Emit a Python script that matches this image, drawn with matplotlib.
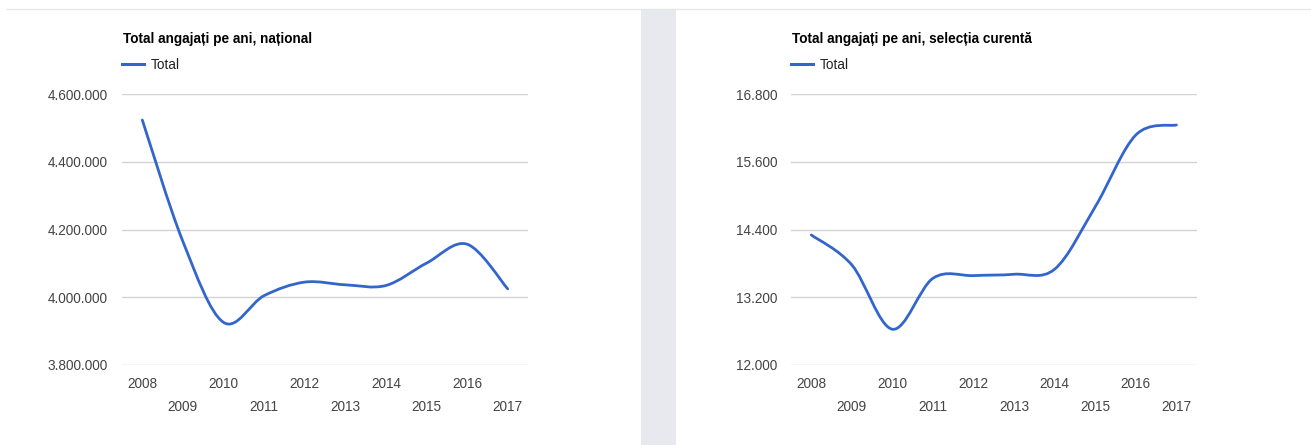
import matplotlib
matplotlib.use("Agg")
import matplotlib.pyplot as plt
from matplotlib.path import Path
from matplotlib.patches import PathPatch, Rectangle
from matplotlib.lines import Line2D
from matplotlib import font_manager
import numpy as np

# ---- data ----
years = ["2008", "2009", "2010", "2011", "2012", "2013", "2014", "2015", "2016", "2017"]
national = [4524000, 4165000, 3926000, 4005000, 4045000, 4037000, 4035000, 4101000, 4157000, 4025000]
selection = [14306, 13774, 12634, 13538, 13585, 13609, 13700, 14807, 16079, 16256]

nat_ticks = [3800000, 4000000, 4200000, 4400000, 4600000]
nat_tick_labels = ["3.800.000", "4.000.000", "4.200.000", "4.400.000", "4.600.000"]
sel_ticks = [12000, 13200, 14400, 15600, 16800]
sel_tick_labels = ["12.000", "13.200", "14.400", "15.600", "16.800"]

title_left = "Total angajați pe ani, național"
title_right = "Total angajați pe ani, selecția curentă"
series_name = "Total"

LINE_COLOR = "#3366cc"
W, H = 1311, 445

names = {f.name for f in font_manager.fontManager.ttflist}
if "Liberation Sans Narrow" in names:
    FAM = ["Liberation Sans Narrow", "DejaVu Sans"]
    FS = 11.5
else:
    FAM = ["Liberation Sans", "DejaVu Sans"]
    FS = 9.8
plt.rcParams["font.family"] = FAM

fig = plt.figure(figsize=(W / 100, H / 100), dpi=100)
fig.patch.set_facecolor("white")


def fx(px):
    return px / W


def fy(py):
    return 1 - py / H


# top border line and middle separator strip
fig.add_artist(Line2D([fx(7), 1.0], [fy(8.5), fy(8.5)], color="#e6e6e6", lw=1.0))
fig.add_artist(Rectangle((fx(641), 0), fx(676) - fx(641), fy(9), color="#e8e9ee", lw=0))


def smooth_path(xs, ys):
    pts = np.column_stack([xs, ys]).astype(float)
    n = len(pts)
    verts = [pts[0]]
    codes = [Path.MOVETO]
    for i in range(n - 1):
        p0 = pts[i - 1] if i > 0 else pts[i]
        p1 = pts[i]
        p2 = pts[i + 1]
        p3 = pts[i + 2] if i + 2 < n else pts[i + 1]
        c1 = p1 + (p2 - p0) / 6.0
        c2 = p2 - (p3 - p1) / 6.0
        verts += [c1, c2, p2]
        codes += [Path.CURVE4] * 3
    return Path(verts, codes)


def make_panel(left_px, right_px, values, ticks, tick_labels, title):
    top_px, bot_px = 94.3, 365.0
    ax = fig.add_axes([fx(left_px), fy(bot_px), fx(right_px) - fx(left_px), (bot_px - top_px) / H])
    x = np.arange(len(years))
    ax.set_xlim(-0.5, len(years) - 0.5)
    ax.set_ylim(ticks[0], ticks[-1])
    ax.set_yticks(ticks)
    ax.set_yticklabels(tick_labels)
    ax.set_xticks(x)
    ax.set_xticklabels(years)
    for s in ax.spines.values():
        s.set_visible(False)
    ax.grid(axis="y", color="#d3d3d3", lw=1.0)
    ax.set_axisbelow(True)
    ax.tick_params(axis="both", length=0, labelsize=FS, labelcolor="#444444")
    ax.tick_params(axis="y", pad=10)
    for i, t in enumerate(ax.xaxis.get_major_ticks()):
        t.set_pad(8.4 if i % 2 == 0 else 25.0)
    patch = PathPatch(smooth_path(x, values), facecolor="none", edgecolor=LINE_COLOR,
                      lw=2.0, capstyle="round", joinstyle="round", clip_on=False)
    ax.add_patch(patch)
    # title
    fig.text(fx(left_px + 1), fy(43.3), title, fontsize=FS, fontweight="bold",
             color="#000000", ha="left", va="baseline")
    # legend
    handle = Line2D([], [], color=LINE_COLOR, lw=2.2)
    ax.legend([handle], [series_name], loc="center left",
              bbox_to_anchor=(fx(left_px), fy(65)), bbox_transform=fig.transFigure,
              frameon=False, borderpad=0, borderaxespad=0, handlelength=1.65,
              handletextpad=0.45, fontsize=FS, labelcolor="#222222")
    return ax


make_panel(122, 528, national, nat_ticks, nat_tick_labels, title_left)
make_panel(791, 1196.7, selection, sel_ticks, sel_tick_labels, title_right)

fig.savefig("out.png", dpi=100)
